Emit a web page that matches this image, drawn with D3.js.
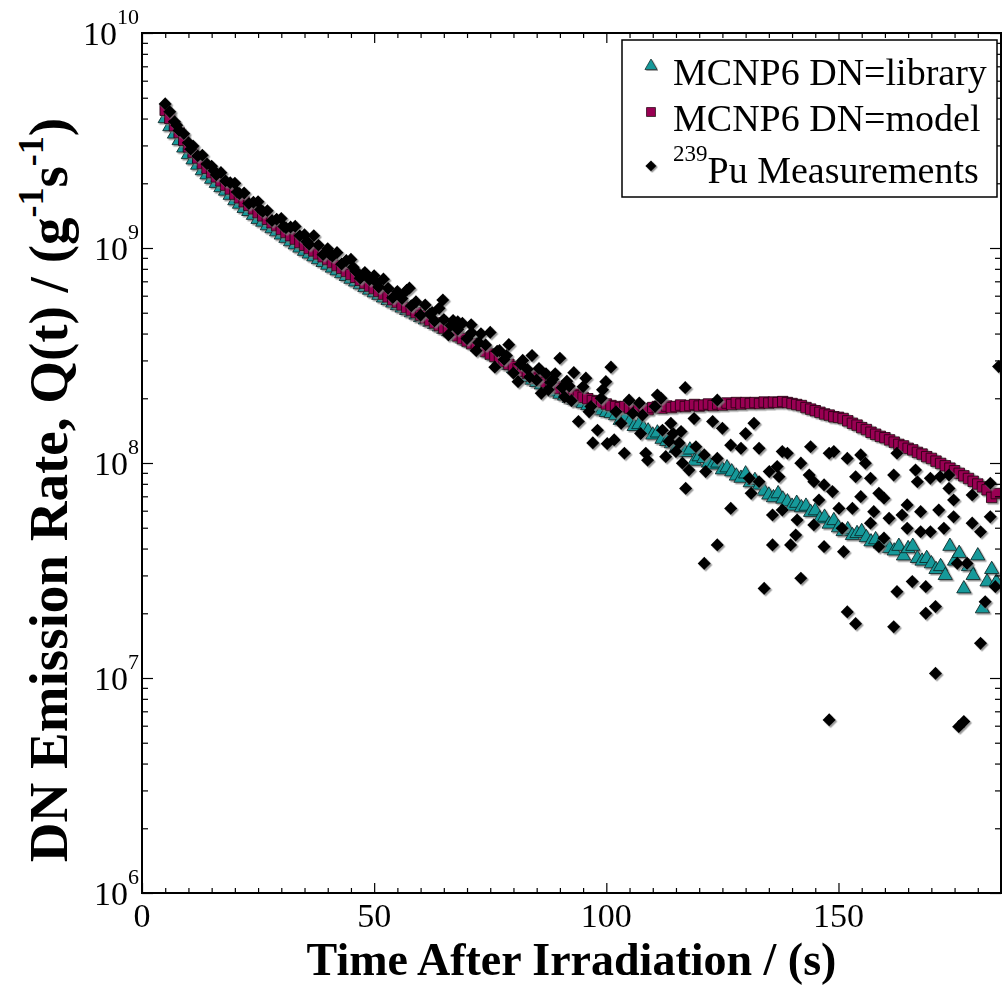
<!DOCTYPE html>
<html>
<head>
<meta charset="utf-8">
<script src="https://cdn.jsdelivr.net/npm/d3@7"></script>
<style>
  body { margin: 0; background: #fff; }
  svg { display: block; font-family: "Liberation Serif", "Times New Roman", serif; }
</style>
</head>
<body>
<div id="chart"></div>
<script>
// time bins of the MCNP6 runs (s)
const simTime = [
  5, 6, 7, 8, 9, 10, 11, 12, 13, 14, 15, 16, 17, 18, 19, 20, 21, 22, 23, 24,
  25, 26, 27, 28, 29, 30, 31, 32, 33, 34, 35, 36, 37, 38, 39, 40, 41, 42, 43, 44,
  45, 46, 47, 48, 49, 50, 51, 52, 53, 54, 55, 56, 57, 58, 59, 60, 61, 62, 63, 64,
  65, 66, 67, 68, 69, 70, 71, 72, 73, 74, 75, 76, 77, 78, 79, 80, 81, 82, 83, 84,
  85, 86, 87, 88, 89, 90, 91, 92, 93, 94, 95, 96, 97, 98, 99, 100, 101, 102, 103, 104,
  105, 106, 107, 108, 109, 110, 111, 112, 113, 114, 115, 116, 117, 118, 119, 120, 121, 122, 123, 124,
  125, 126, 127, 128, 129, 130, 131, 132, 133, 134, 135, 136, 137, 138, 139, 140, 141, 142, 143, 144,
  145, 146, 147, 148, 149, 150, 151, 152, 153, 154, 155, 156, 157, 158, 159, 160, 161, 162, 163, 164,
  165, 166, 167, 168, 169, 170, 171, 172, 173, 174, 175, 176, 177, 178, 179, 180, 181, 182, 183, 184
];

// MCNP6 DN=library
const libRate = [
  4.0e9, 3.67e9, 3.39e9, 3.16e9, 2.92e9, 2.72e9, 2.57e9, 2.43e9, 2.29e9, 2.19e9,
  2.09e9, 2.00e9, 1.91e9, 1.84e9, 1.76e9, 1.66e9, 1.60e9, 1.53e9, 1.48e9, 1.42e9,
  1.36e9, 1.32e9, 1.27e9, 1.23e9, 1.19e9, 1.15e9, 1.11e9, 1.07e9, 1.035e9, 1.00e9,
  9.66e8, 9.38e8, 9.10e8, 8.83e8, 8.57e8, 8.32e8, 8.07e8, 7.83e8, 7.60e8, 7.38e8,
  7.16e8, 6.95e8, 6.75e8, 6.55e8, 6.37e8, 6.19e8, 6.03e8, 5.86e8, 5.70e8, 5.55e8,
  5.40e8, 5.26e8, 5.13e8, 5.00e8, 4.88e8, 4.75e8, 4.63e8, 4.52e8, 4.41e8, 4.30e8,
  4.19e8, 4.08e8, 3.98e8, 3.88e8, 3.78e8, 3.69e8, 3.60e8, 3.51e8, 3.41e8, 3.32e8,
  3.23e8, 3.13e8, 3.03e8, 2.94e8, 2.84e8, 2.75e8, 2.67e8, 2.58e8, 2.50e8, 2.43e8,
  2.37e8, 2.31e8, 2.25e8, 2.19e8, 2.14e8, 2.09e8, 2.05e8, 2.00e8, 1.96e8, 1.92e8,
  1.89e8, 1.85e8, 1.82e8, 1.79e8, 1.75e8, 1.72e8, 1.70e8, 1.66e8, 1.58e8, 1.62e8,
  1.55e8, 1.48e8, 1.51e8, 1.45e8, 1.41e8, 1.35e8, 1.38e8, 1.29e8, 1.26e8, 1.23e8,
  1.17e8, 1.20e8, 1.12e8, 1.15e8, 1.02e8, 1.07e8, 1.05e8, 1.00e8, 9.8e7, 1.00e8,
  9.3e7, 9.5e7, 9.1e7, 8.7e7, 8.5e7, 8.9e7, 8.1e7, 8.3e7, 7.9e7, 7.4e7,
  7.1e7, 6.9e7, 7.2e7, 6.8e7, 6.6e7, 6.3e7, 6.5e7, 6.2e7, 6.3e7, 5.9e7,
  6.0e7, 5.5e7, 5.6e7, 5.2e7, 5.4e7, 5.0e7, 4.8e7, 4.9e7, 4.6e7, 4.7e7,
  4.8e7, 4.5e7, 4.3e7, 4.4e7, 4.2e7, 4.3e7, 4.0e7, 3.9e7, 4.1e7, 3.7e7,
  4.0e7, 4.1e7, 3.6e7, 3.5e7, 3.6e7, 3.4e7, 3.2e7, 3.3e7, 3.0e7, 4.1e7,
  3.5e7, 3.8e7, 2.6e7, 3.3e7, 3.0e7, 3.7e7, 2.1e7, 2.8e7, 3.2e7, 2.8e7
];

// MCNP6 DN=model
const modelRate = [
  4.37e9, 4.01e9, 3.70e9, 3.44e9, 3.17e9, 2.95e9, 2.78e9, 2.62e9, 2.47e9, 2.35e9,
  2.24e9, 2.14e9, 2.05e9, 1.96e9, 1.88e9, 1.78e9, 1.71e9, 1.64e9, 1.58e9, 1.52e9,
  1.46e9, 1.41e9, 1.36e9, 1.31e9, 1.27e9, 1.22e9, 1.18e9, 1.14e9, 1.10e9, 1.06e9,
  1.03e9, 9.95e8, 9.68e8, 9.38e8, 9.10e8, 8.83e8, 8.55e8, 8.28e8, 8.04e8, 7.78e8,
  7.53e8, 7.31e8, 7.08e8, 6.86e8, 6.65e8, 6.47e8, 6.28e8, 6.10e8, 5.92e8, 5.74e8,
  5.58e8, 5.43e8, 5.28e8, 5.14e8, 5.00e8, 4.86e8, 4.73e8, 4.60e8, 4.48e8, 4.36e8,
  4.24e8, 4.12e8, 4.01e8, 3.90e8, 3.79e8, 3.69e8, 3.59e8, 3.49e8, 3.40e8, 3.30e8,
  3.21e8, 3.13e8, 3.04e8, 2.96e8, 2.88e8, 2.81e8, 2.74e8, 2.67e8, 2.61e8, 2.54e8,
  2.48e8, 2.43e8, 2.37e8, 2.32e8, 2.26e8, 2.22e8, 2.17e8, 2.13e8, 2.09e8, 2.05e8,
  2.02e8, 1.99e8, 1.95e8, 1.93e8, 1.91e8, 1.88e8, 1.85e8, 1.83e8, 1.81e8, 1.83e8,
  1.80e8, 1.78e8, 1.81e8, 1.79e8, 1.77e8, 1.81e8, 1.83e8, 1.80e8, 1.84e8, 1.81e8,
  1.83e8, 1.86e8, 1.83e8, 1.85e8, 1.87e8, 1.84e8, 1.86e8, 1.88e8, 1.85e8, 1.88e8,
  1.86e8, 1.90e8, 1.87e8, 1.91e8, 1.88e8, 1.91e8, 1.89e8, 1.91e8, 1.89e8, 1.92e8,
  1.90e8, 1.92e8, 1.91e8, 1.93e8, 1.91e8, 1.89e8, 1.87e8, 1.85e8, 1.81e8, 1.78e8,
  1.75e8, 1.72e8, 1.69e8, 1.67e8, 1.64e8, 1.63e8, 1.61e8, 1.57e8, 1.53e8, 1.50e8,
  1.46e8, 1.43e8, 1.39e8, 1.36e8, 1.33e8, 1.31e8, 1.28e8, 1.25e8, 1.22e8, 1.20e8,
  1.17e8, 1.15e8, 1.12e8, 1.10e8, 1.07e8, 1.05e8, 1.02e8, 9.95e7, 9.70e7, 9.46e7,
  9.20e7, 8.95e7, 8.71e7, 8.47e7, 8.22e7, 7.98e7, 7.74e7, 7.50e7, 6.92e7, 7.21e7
];

// 239Pu measurements
const measTime = [
  5, 6, 7, 8, 9, 10, 11, 12, 13, 14, 15, 16, 17, 18, 19, 20, 21, 22, 23, 24,
  25, 26, 27, 28, 29, 30, 31, 32, 33, 34, 35, 36, 37, 38, 39, 40, 41, 42, 43, 44,
  45, 46, 47, 48, 49, 50, 51, 52, 53, 54, 55, 56, 57, 58, 59, 60, 61, 62, 63, 64,
  65, 66, 67, 68, 69, 70, 71, 72, 73, 74, 75, 76, 77, 78, 79, 80, 81, 82, 83, 84,
  85, 86, 87, 88, 89, 90, 91, 92, 93, 94, 95,
  7.5, 10.5, 15.5, 20.5, 25.5, 30.5, 35.5, 40.5, 45.5, 50.5, 55.5, 57.6, 62.5, 64.8,
  66.5, 68.0, 70.9, 72.5, 76.5, 78.5, 81.5, 83.5, 85.5, 87.5, 88.5, 90.5, 91.5, 92.5,
  95.6, 96.3, 96.7, 97.1, 98.1, 98.9, 99.2, 99.9, 100.2, 101.0, 101.7, 102.1, 103.2, 103.9,
  104.9, 105.7, 107.1, 107.8, 107.4, 108.5, 108.9, 110.5, 111.0, 111.8, 112.1, 112.8, 113.5, 113.9,
  114.4, 115.0, 115.7, 116.1, 116.4, 117.0, 117.1, 117.8, 118.9, 119.3, 121.1, 121.4, 121.1, 122.9,
  123.9, 123.9, 123.9, 125.0, 126.8, 126.8, 129.0, 130.0, 130.8, 131.2, 131.8, 132.9, 132.9, 134.0,
  135.1, 135.8, 135.8, 136.8, 137.2, 137.9, 137.9, 139.0, 139.7, 140.8, 141.1, 141.9, 141.9, 143.7,
  144.0, 144.7, 144.7, 145.8, 146.9, 146.9, 148.0, 148.0, 148.7, 149.0, 150.1, 150.8, 151.1, 151.9,
  151.9, 153.0, 153.7, 153.7, 154.8, 154.8, 155.8, 156.9, 156.9, 157.6, 158.7, 158.7, 159.8, 159.8,
  160.9, 161.9, 161.9, 162.6, 162.6, 163.7, 164.8, 164.8, 165.9, 166.6, 167.0, 167.7, 167.7, 168.8,
  168.8, 169.8, 169.8, 170.9, 170.9, 171.6, 171.9, 172.7, 173.8, 173.8, 174.8, 174.8, 175.6, 175.9,
  177.0, 177.7, 178.8, 178.8, 180.6, 180.6, 181.6, 182.7, 182.7, 183.8, 184.5
];
const measRate = [
  4.68e9, 4.30e9, 3.87e9, 3.52e9, 3.40e9, 3.09e9, 2.98e9, 2.68e9, 2.70e9, 2.46e9,
  2.40e9, 2.19e9, 2.24e9, 2.05e9, 2.01e9, 2.00e9, 1.79e9, 1.80e9, 1.61e9, 1.63e9,
  1.64e9, 1.48e9, 1.49e9, 1.34e9, 1.36e9, 1.37e9, 1.24e9, 1.25e9, 1.26e9, 1.14e9,
  1.15e9, 1.04e9, 1.14e9, 1.03e9, 9.31e8, 9.91e8, 9.16e8, 9.51e8, 8.41e8, 8.73e8,
  8.85e8, 7.83e8, 7.24e8, 7.69e8, 7.13e8, 7.43e8, 6.58e8, 7.16e8, 6.49e8, 5.87e8,
  6.27e8, 5.82e8, 6.35e8, 5.38e8, 5.61e8, 4.86e8, 5.43e8, 4.93e8, 4.58e8, 5.24e8,
  4.65e8, 3.94e8, 4.60e8, 4.18e8, 4.46e8, 3.78e8, 4.03e8, 3.33e8, 3.99e8, 3.54e8,
  4.05e8, 2.79e8, 3.33e8, 3.03e8, 3.55e8, 2.62e8, 2.39e8, 3.00e8, 2.73e8, 3.16e8,
  2.43e8, 2.11e8, 2.60e8, 2.37e8, 2.60e8, 3.07e8, 2.03e8, 2.28e8, 2.63e8, 1.56e8, 2.26e8,
  3.72e9, 2.88e9, 2.29e9, 1.82e9, 1.51e9, 1.26e9, 1.07e9, 9.33e8, 8.13e8, 6.92e8, 6.03e8, 6.50e8, 5.01e8, 5.73e8,
  4.37e8, 4.54e8, 4.39e8, 3.63e8, 3.31e8, 3.16e8, 2.88e8, 2.51e8, 2.75e8, 2.19e8, 2.45e8, 2.24e8, 2.40e8, 1.95e8,
  2.48e8, 1.73e8, 1.83e8, 1.24e8, 1.42e8, 2.00e8, 2.19e8, 2.39e8, 1.23e8, 2.79e8, 1.28e8, 1.73e8, 1.53e8, 1.11e8,
  1.96e8, 1.70e8, 1.90e8, 1.67e8, 1.37e8, 1.11e8, 1.03e8, 1.83e8, 2.07e8, 2.00e8, 1.42e8, 1.07e8, 1.26e8, 1.53e8,
  1.37e8, 1.13e8, 1.24e8, 1.40e8, 9.98e7, 2.24e8, 7.62e7, 9.27e7, 1.61e8, 1.19e8, 1.09e8, 9.12e7, 3.41e7, 1.56e8,
  1.96e8, 1.05e8, 4.16e7, 1.45e8, 1.21e8, 6.15e7, 1.17e8, 1.37e8, 8.49e7, 7.23e7, 1.53e8, 1.17e8, 8.18e7, 2.61e7,
  9.12e7, 5.73e7, 4.16e7, 9.62e7, 8.63e7, 1.13e8, 6.04e7, 1.11e8, 4.16e7, 4.62e7, 5.43e7, 9.98e7, 2.91e7, 8.79e7,
  1.19e8, 8.18e7, 5.15e7, 6.73e7, 7.91e7, 4.08e7, 1.11e8, 6.38e6, 7.36e7, 1.13e8, 6.15e7, 4.97e7, 3.87e7, 1.05e8,
  2.03e7, 6.15e7, 8.63e7, 1.79e7, 1.09e8, 6.97e7, 9.98e7, 8.49e7, 5.25e7, 5.94e7, 7.23e7, 4.08e7, 6.86e7, 4.47e7,
  5.53e7, 8.79e7, 1.73e7, 1.11e8, 2.52e7, 5.73e7, 6.38e7, 4.97e7, 2.81e7, 9.27e7, 8.18e7, 5.94e7, 4.79e7, 2.66e7,
  2.00e7, 8.49e7, 4.79e7, 2.15e7, 1.05e7, 6.04e7, 8.63e7, 4.97e7, 8.79e7, 7.62e7, 6.73e7, 5.62e7, 3.41e7, 5.94e6,
  6.27e6, 3.41e7, 7.10e7, 5.25e7, 4.79e7, 1.45e7, 2.26e7, 8.05e7, 5.62e7, 2.66e7, 2.81e8
];

const xTicks = [0, 50, 100, 150];
const yDecades = [1e6, 1e7, 1e8, 1e9, 1e10];
const yExponents = ["6", "7", "8", "9", "10"];
const seriesNames = ["MCNP6 DN=library", "MCNP6 DN=model", "Pu Measurements"];

const width = 1003, height = 987;
const plot = { left: 142, right: 1001, top: 33, bottom: 893 };

const x = d3.scaleLinear().domain([0, 185]).range([plot.left, plot.right]);
const y = d3.scaleLog().domain([1e6, 1e10]).range([plot.bottom, plot.top]);

const svg = d3.select("#chart").append("svg")
  .attr("width", width)
  .attr("height", height);

const defs = svg.append("defs");
defs.append("clipPath").attr("id", "plotClip")
  .append("rect")
  .attr("x", plot.left).attr("y", plot.top)
  .attr("width", plot.right - plot.left).attr("height", plot.bottom - plot.top);

const shadow = defs.append("filter").attr("id", "shadow")
  .attr("x", "-5%").attr("y", "-5%").attr("width", "110%").attr("height", "110%");
shadow.append("feDropShadow")
  .attr("dx", 1.5).attr("dy", 1.5).attr("stdDeviation", 0.6)
  .attr("flood-color", "#808080").attr("flood-opacity", 0.8);

const tealFill = "#15999a";
const plumFill = "#990052";

const triangle = d3.symbol().type(d3.symbolTriangle).size(88);
const square = d3.symbol().type(d3.symbolSquare).size(110);
const diamond = "M0,-6.6L6.6,0L0,6.6L-6.6,0Z";

const libData = simTime.map((t, i) => ({ t: t, v: libRate[i] }));
const modelData = simTime.map((t, i) => ({ t: t, v: modelRate[i] }));
const measData = measTime.map((t, i) => ({ t: t, v: measRate[i] }));

const marks = svg.append("g").attr("clip-path", "url(#plotClip)");

marks.append("g").attr("filter", "url(#shadow)")
  .selectAll("path")
  .data(libData)
  .enter()
  .append("path")
  .attr("d", triangle)
  .attr("transform", d => `translate(${x(d.t)},${y(d.v)})`)
  .attr("fill", tealFill)
  .attr("stroke", "#0a2a2a")
  .attr("stroke-width", 0.9);

marks.append("g").attr("filter", "url(#shadow)")
  .selectAll("path")
  .data(modelData)
  .enter()
  .append("path")
  .attr("d", square)
  .attr("transform", d => `translate(${x(d.t)},${y(d.v)})`)
  .attr("fill", plumFill)
  .attr("stroke", "#2a0015")
  .attr("stroke-width", 0.9);

marks.append("g").attr("filter", "url(#shadow)")
  .selectAll("path")
  .data(measData)
  .enter()
  .append("path")
  .attr("d", diamond)
  .attr("transform", d => `translate(${x(d.t)},${y(d.v)})`)
  .attr("fill", "#000");

// axes: ticks point inward on all four sides
function styleAxis(g) {
  g.select(".domain").remove();
  g.selectAll(".tick line").attr("stroke", "#000").attr("stroke-width", 1.2);
}

const minorX = d3.range(5, 185, 5).filter(v => v % 50 !== 0);
const minorY = [];
yDecades.slice(0, -1).forEach(d => {
  for (let k = 2; k <= 9; k++) minorY.push(d * k);
});

svg.append("g").attr("transform", `translate(0,${plot.bottom})`)
  .call(d3.axisBottom(x).tickValues(xTicks).tickSize(-10).tickFormat(""))
  .call(styleAxis);
svg.append("g").attr("transform", `translate(0,${plot.bottom})`)
  .call(d3.axisBottom(x).tickValues(minorX).tickSize(-5).tickFormat(""))
  .call(styleAxis);
svg.append("g").attr("transform", `translate(0,${plot.top})`)
  .call(d3.axisTop(x).tickValues(xTicks).tickSize(-10).tickFormat(""))
  .call(styleAxis);
svg.append("g").attr("transform", `translate(0,${plot.top})`)
  .call(d3.axisTop(x).tickValues(minorX).tickSize(-5).tickFormat(""))
  .call(styleAxis);

svg.append("g").attr("transform", `translate(${plot.left},0)`)
  .call(d3.axisLeft(y).tickValues(yDecades).tickSize(-11).tickFormat(""))
  .call(styleAxis);
svg.append("g").attr("transform", `translate(${plot.left},0)`)
  .call(d3.axisLeft(y).tickValues(minorY).tickSize(-6).tickFormat(""))
  .call(styleAxis);
svg.append("g").attr("transform", `translate(${plot.right},0)`)
  .call(d3.axisRight(y).tickValues(yDecades).tickSize(-11).tickFormat(""))
  .call(styleAxis);
svg.append("g").attr("transform", `translate(${plot.right},0)`)
  .call(d3.axisRight(y).tickValues(minorY).tickSize(-6).tickFormat(""))
  .call(styleAxis);

svg.append("rect")
  .attr("x", plot.left).attr("y", plot.top)
  .attr("width", plot.right - plot.left).attr("height", plot.bottom - plot.top)
  .attr("fill", "none")
  .attr("stroke", "#000")
  .attr("stroke-width", 2);

// tick labels
svg.append("g").selectAll("text")
  .data(xTicks)
  .enter()
  .append("text")
  .attr("x", d => x(d))
  .attr("y", 926.5)
  .attr("text-anchor", "middle")
  .attr("font-size", 34)
  .text(d => d);

const yLab = svg.append("g").selectAll("text")
  .data(yDecades)
  .enter()
  .append("text")
  .attr("x", 139)
  .attr("y", d => y(d) + 12)
  .attr("text-anchor", "end")
  .attr("font-size", 34);
yLab.append("tspan").text("10");
yLab.append("tspan")
  .attr("font-size", 22)
  .attr("dy", -21)
  .text((d, i) => yExponents[i]);

// axis titles
svg.append("text")
  .attr("x", (plot.left + plot.right) / 2)
  .attr("y", 975)
  .attr("text-anchor", "middle")
  .attr("font-size", 46)
  .attr("font-weight", "bold")
  .text("Time After Irradiation / (s)");

const yTitle = svg.append("text")
  .attr("transform", "translate(67,490) rotate(-90)")
  .attr("text-anchor", "middle")
  .attr("font-size", 55)
  .attr("font-weight", "bold");
yTitle.append("tspan").text("DN Emission Rate, Q(t) / (g");
yTitle.append("tspan").attr("font-size", 36).attr("dy", -24).text("-1");
yTitle.append("tspan").attr("dy", 24).text("s");
yTitle.append("tspan").attr("font-size", 36).attr("dy", -24).text("-1");
yTitle.append("tspan").attr("dy", 24).text(")");

// legend
const legend = svg.append("g");
legend.append("rect")
  .attr("x", 622).attr("y", 40)
  .attr("width", 375).attr("height", 157)
  .attr("fill", "#fff")
  .attr("stroke", "#000")
  .attr("stroke-width", 1.5);

const legendRows = [
  { shape: triangle(), fill: tealFill, stroke: "#0a2a2a", my: 66, ty: 85 },
  { shape: square(), fill: plumFill, stroke: "#2a0015", my: 112, ty: 131 },
  { shape: diamond, fill: "#000", stroke: "none", my: 166, ty: 183 }
];
legendRows.forEach((r, i) => {
  legend.append("path")
    .attr("d", r.shape)
    .attr("transform", `translate(651,${r.my}) scale(0.85)`)
    .attr("fill", r.fill)
    .attr("stroke", r.stroke)
    .attr("stroke-width", 0.9)
    .attr("filter", "url(#shadow)");
  const t = legend.append("text")
    .attr("x", 673)
    .attr("y", r.ty)
    .attr("font-size", 38);
  if (i === 2) {
    t.append("tspan").attr("font-size", 23).attr("dy", -22).text("239");
    t.append("tspan").attr("dy", 22).text(seriesNames[i]);
  } else {
    t.text(seriesNames[i]);
  }
});
</script>
</body>
</html>
